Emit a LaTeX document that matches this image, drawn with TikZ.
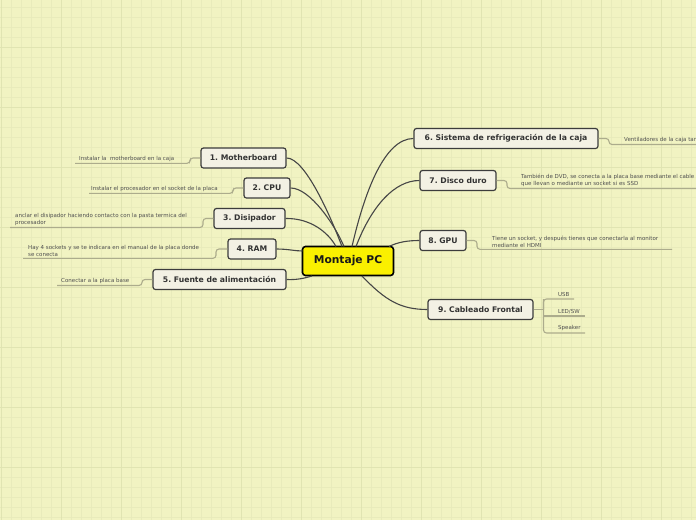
\documentclass[tikz,border=0pt]{standalone}
\usepackage{fontspec}
\setmainfont{DejaVu Sans}
\frenchspacing
\definecolor{bgc}{RGB}{241,243,194}
\definecolor{gridminor}{RGB}{232,235,187}
\definecolor{gridmajor}{RGB}{224,228,178}
\definecolor{subfill}{RGB}{243,241,228}
\definecolor{subdraw}{RGB}{60,60,60}
\definecolor{mainfill}{RGB}{250,240,0}
\definecolor{leafline}{RGB}{172,172,140}
\definecolor{leaftext}{RGB}{80,80,80}
\definecolor{conn}{RGB}{70,70,70}
\tikzset{
  subnode/.style={draw=subdraw, line width=1.2pt, fill=subfill, rounded corners=2.5pt,
    font=\bfseries\fontsize{7.7}{9}\selectfont, text=black!80, minimum height=20pt, inner sep=0pt},
  mainnode/.style={draw=black, line width=1.6pt, fill=mainfill, rounded corners=3pt,
    font=\bfseries\fontsize{10.7}{12}\selectfont, text=black!90, minimum height=29pt, minimum width=91pt, inner sep=0pt},
  leaf/.style={font=\fontsize{5.5}{6.9}\selectfont, text=leaftext, align=left, inner sep=0pt, anchor=south west},
  leafconn/.style={draw=leafline, line width=1.1pt, rounded corners=3pt},
  mainconn/.style={draw=conn, line width=1.1pt},
}
\begin{document}
\begin{tikzpicture}[x=1pt,y=-1pt]
\fill[bgc] (0,0) rectangle (696,520);
\useasboundingbox (0,0) rectangle (696,520);
% grid
\foreach \gx in {1,11,...,691} {\draw[gridminor, line width=0.7pt] (\gx,0) -- (\gx,520);}
\foreach \gy in {7,17,...,517} {\draw[gridminor, line width=0.7pt] (0,\gy) -- (696,\gy);}
\foreach \gx in {1,61,...,661} {\draw[gridmajor, line width=0.9pt] (\gx,0) -- (\gx,520);}
\foreach \gy in {47,107,...,467} {\draw[gridmajor, line width=0.9pt] (0,\gy) -- (696,\gy);}

% nodes
\node[mainnode] (c) at (348,261) {Montaje PC};
\node[subnode, minimum width=85pt] (n1) at (243.5,158) {1. Motherboard};
\node[subnode, minimum width=46pt] (n2) at (267,188) {2. CPU};
\node[subnode, minimum width=71pt] (n3) at (249.5,218.5) {3. Disipador};
\node[subnode, minimum width=48pt] (n4) at (252,249) {4. RAM};
\node[subnode, minimum width=133pt] (n5) at (219.5,279.5) {5. Fuente de alimentación};
\node[subnode, minimum width=184pt] (n6) at (506,138.5) {6. Sistema de refrigeración de la caja};
\node[subnode, minimum width=76pt] (n7) at (458,180.5) {7. Disco duro};
\node[subnode, minimum width=46pt] (n8) at (443,240.5) {8. GPU};
\node[subnode, minimum width=105pt] (n9) at (480.5,309.5) {9. Cableado Frontal};

% main connectors
\coordinate (c1) at (342,246.5);
\coordinate (c2) at (344,246.5);
\coordinate (c3) at (336,246.5);
\coordinate (c4) at (302.5,251);
\coordinate (c5) at (312,276);
\coordinate (c6) at (352,246.5);
\coordinate (c7) at (356,246.5);
\coordinate (c8) at (389,246.5);
\coordinate (c9) at (362,276);
\draw[mainconn] (n1.east) .. controls (305,158) and (330,215) .. (c1);
\draw[mainconn] (n2.east) .. controls (310,188) and (335,225) .. (c2);
\draw[mainconn] (n3.east) .. controls (310,218) and (328,232) .. (c3);
\draw[mainconn] (n4.east) .. controls (288,249) and (295,251) .. (c4);
\draw[mainconn] (n5.east) .. controls (298,280) and (305,278) .. (c5);
\draw[mainconn] (c6) .. controls (365,190) and (385,138.5) .. (n6.west);
\draw[mainconn] (c7) .. controls (372,205) and (395,180.5) .. (n7.west);
\draw[mainconn] (c8) .. controls (398,242) and (408,240.5) .. (n8.west);
\draw[mainconn] (c9) .. controls (385,300) and (400,309.5) .. (n9.west);

% leaves
\coordinate (l1) at (75,163.3);
\draw[leafconn] (n1.west) -- (190,158) -- (190,163.3) -- (l1);
\node[leaf] (t1) at (79,161.5) {Instalar la\ \ motherboard en la caja};

\coordinate (l2) at (89,193.3);
\draw[leafconn] (n2.west) -- (233,188) -- (233,193.3) -- (l2);
\node[leaf] (t2) at (91,191.5) {Instalar el procesador en el socket de la placa};

\coordinate (l3) at (10,227.5);
\draw[leafconn] (n3.west) -- (203,218.5) -- (203,227.5) -- (l3);
\node[leaf] (t3) at (15,225.5) {anclar el disipador haciendo contacto con la pasta termica del\\procesador};

\coordinate (l4) at (23,258.3);
\draw[leafconn] (n4.west) -- (216,249) -- (216,258.3) -- (l4);
\node[leaf] (t4) at (28,256.5) {Hay 4 sockets y se te indicara en el manual de la placa donde\\se conecta};

\coordinate (l5) at (57,285.5);
\draw[leafconn] (n5.west) -- (142,279.5) -- (142,285.5) -- (l5);
\node[leaf] (t5) at (61,283.5) {Conectar a la placa base};

\coordinate (l6) at (700,144.5);
\draw[leafconn] (n6.east) -- (609,138.5) -- (609,144.5) -- (l6);
\node[leaf] (t6) at (624,142.5) {Ventiladores de la caja tar};

\coordinate (l7) at (700,188.5);
\draw[leafconn] (n7.east) -- (507,180.5) -- (507,188.5) -- (l7);
\node[leaf] (t7) at (521,186.5) {También de DVD, se conecta a la placa base mediante el cable\\que llevan o mediante un socket si es SSD};

\coordinate (l8) at (672,249.3);
\draw[leafconn] (n8.east) -- (477,240.5) -- (477,249.3) -- (l8);
\node[leaf] (t8) at (492,247.3) {Tiene un socket, y después tienes que conectarla al monitor\\mediante el HDMI};

\coordinate (l9a) at (574,299);
\coordinate (l9b) at (585,316);
\coordinate (l9c) at (585,333);
\coordinate (sp) at (543.5,309.5);
\draw[leafconn] (n9.east) -- (sp);
\draw[leafconn] (sp) -- (543.5,299) -- (l9a);
\draw[leafconn] (543.5,299) -- (543.5,333) -- (l9c);
\draw[leafconn] (543.5,316) -- (l9b);
\node[leaf] (u1) at (558,297) {USB};
\node[leaf] (u2) at (558,314) {LED/SW};
\node[leaf] (u3) at (558,331) {Speaker};
\end{tikzpicture}
\end{document}
